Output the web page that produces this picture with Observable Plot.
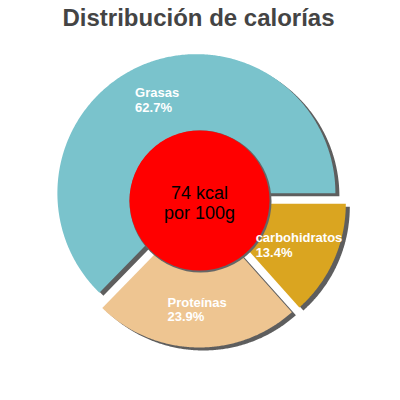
<!DOCTYPE html>
<html><head><meta charset="utf-8">
<script src="https://cdn.jsdelivr.net/npm/d3@7"></script>
<script src="https://cdn.jsdelivr.net/npm/@observablehq/plot@0.6"></script>
<style>body{margin:0;background:#fff}</style>
</head><body><div id="chart"></div>
<script>
const categories = ["carbohidratos", "Proteínas", "Grasas"];
const percents = [13.4, 23.9, 62.7];
const colors = ["#daa520", "#eec591", "#7ac3cc"];
const title = "Distribución de calorías";
const centerLabel = ["74 kcal\npor 100g"];

const FONT = "'Liberation Sans', Arial, sans-serif";
const R = 139, explode = 8, labelR = 101;

const arcs = d3.pie().sort(null).startAngle(Math.PI / 2).endAngle(Math.PI / 2 + 2 * Math.PI)(percents);
const slices = arcs.map((p, i) => ({
  key: categories[i], value: percents[i], start: p.startAngle, end: p.endAngle,
  mid: (p.startAngle + p.endAngle) / 2
}));

const pts = [];
for (const s of slices) {
  const ox = explode * Math.sin(s.mid), oy = explode * Math.cos(s.mid);
  pts.push({key: s.key, x: ox, y: oy});
  const n = Math.max(2, Math.ceil((s.end - s.start) / (Math.PI / 360)));
  for (let k = 0; k <= n; k++) {
    const a = s.start + (s.end - s.start) * k / n;
    pts.push({key: s.key, x: ox + R * Math.sin(a), y: oy + R * Math.cos(a)});
  }
  pts.push({key: s.key, x: ox, y: oy});
}

const ctx = document.createElement("canvas").getContext("2d");
ctx.font = "bold 13px " + FONT;
const labels = slices.map(s => {
  const ox = explode * Math.sin(s.mid), oy = explode * Math.cos(s.mid);
  const pct = s.value.toFixed(1) + "%";
  const w = Math.max(ctx.measureText(s.key).width, ctx.measureText(pct).width);
  return {
    text: s.key + "\n" + pct,
    x: ox + labelR * Math.sin(s.mid) - w / 2,
    y: oy + labelR * Math.cos(s.mid)
  };
});

const chart = Plot.plot({
  width: 400, height: 400, margin: 0,
  style: {background: "#fff", fontFamily: FONT},
  x: {domain: [-199, 201], axis: null},
  y: {domain: [-200, 200], axis: null},
  color: {domain: categories, range: colors},
  marks: [
    Plot.line(pts, {x: "x", y: "y", z: "key", fill: "#5e5e5e", stroke: null, dx: 4, dy: 3}),
    Plot.line(pts, {x: "x", y: "y", z: "key", fill: "key", stroke: null}),
    Plot.dot(centerLabel, {x: () => 0, y: () => 0, r: 71, fill: "#666", stroke: null, dx: 1, dy: 1}),
    Plot.dot(centerLabel, {x: () => 0, y: () => 0, r: 70, fill: "#ff0000", stroke: null}),
    Plot.text(centerLabel, {x: () => 0, y: () => 0, text: d => d, fontSize: 18, lineHeight: 1.12, fill: "#000", lineAnchor: "middle", dy: 2}),
    Plot.text(labels, {x: "x", y: "y", text: "text", textAnchor: "start", lineAnchor: "middle", fontSize: 13, fontWeight: "bold", lineHeight: 1.12, fill: "#fff"}),
    Plot.text([title], {frameAnchor: "top", lineAnchor: "top", dy: 8, dx: -2, fontSize: 24, fontWeight: "bold", fill: "#444"})
  ]
});
document.getElementById("chart").appendChild(chart);
</script>
</body></html>
